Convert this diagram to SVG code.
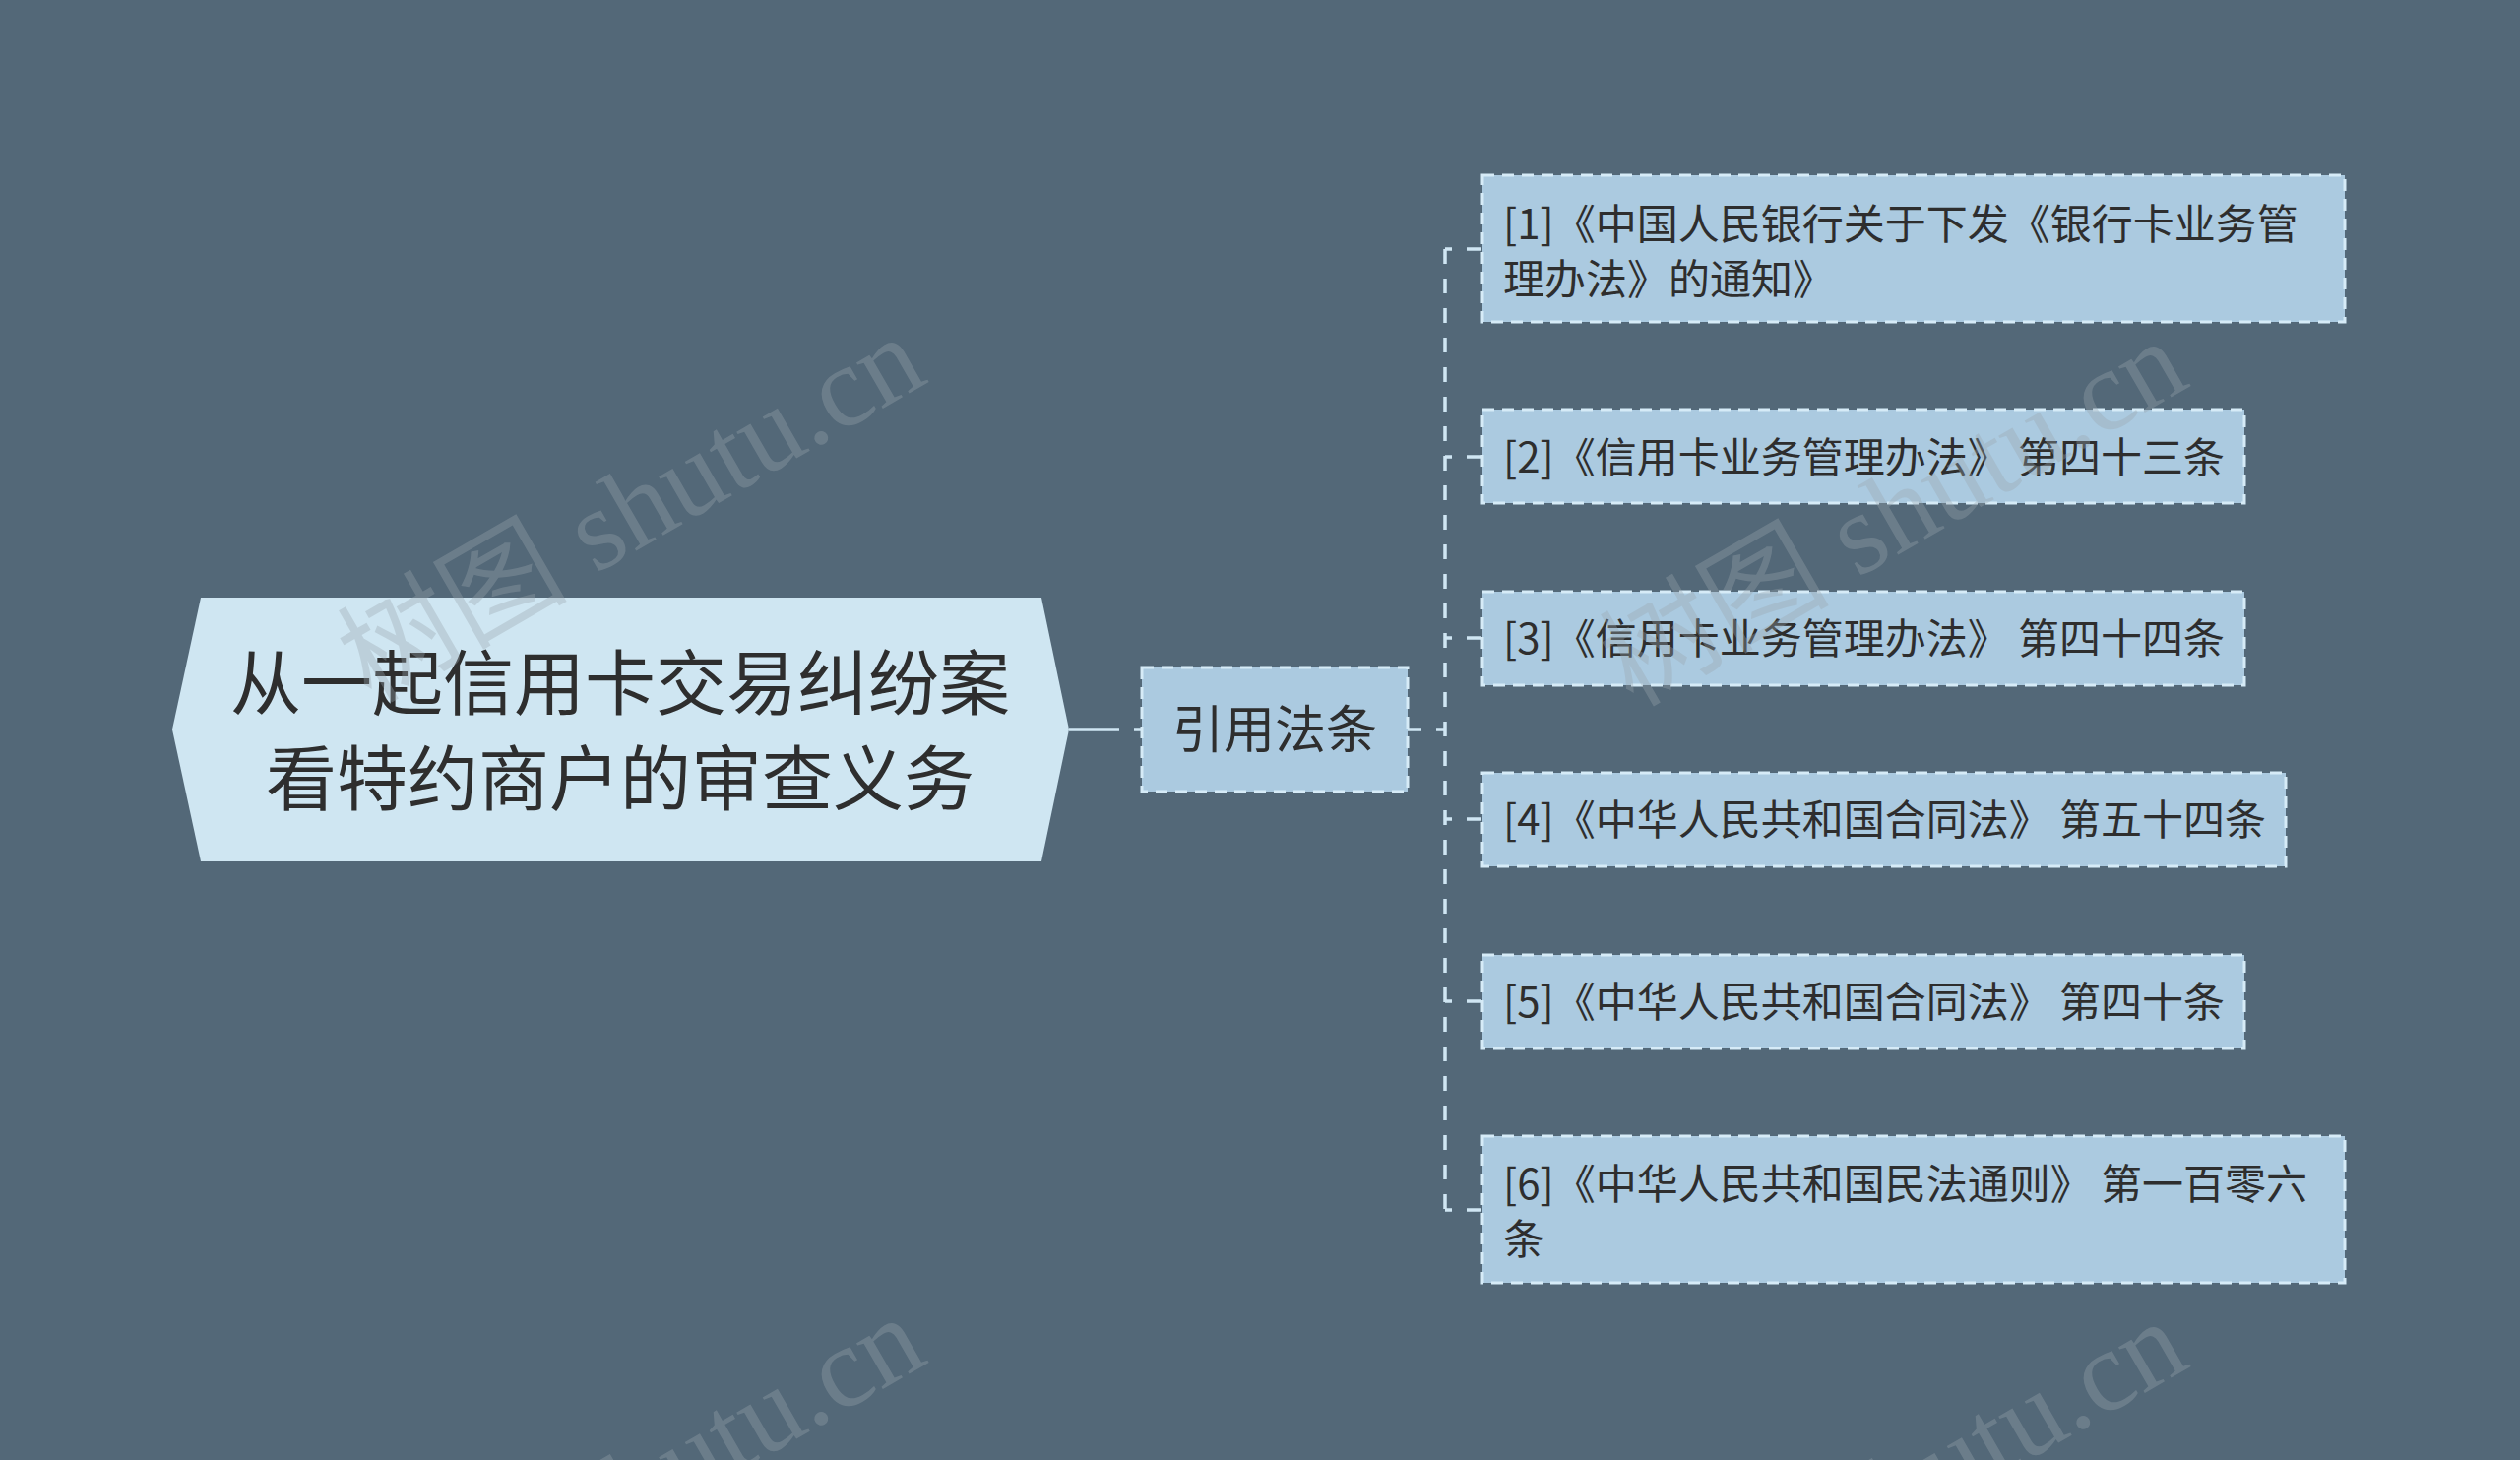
<svg xmlns="http://www.w3.org/2000/svg" width="2560" height="1483" viewBox="0 0 2560 1483">
<style>
.bg{fill:#536878}
.root{fill:#cfe6f2}
.box{fill:#abcae0;stroke:#d6ebf7;stroke-width:3;stroke-dasharray:12 8}
.t{font-family:"Noto Sans CJK SC","Noto Sans",sans-serif;fill:#2e2e2e}
.c{fill:none;stroke:#d0e6f3;stroke-width:3.5}
.wm{font-family:"Liberation Serif","Noto Sans CJK SC",serif;font-size:117px;fill:#9aa6ae;opacity:0.35}
</style>
<rect class="bg" x="0" y="0" width="2560" height="1483"/>
<g id="connectors">
<path class="c" d="M1086,741 H1160" stroke-dasharray="51 15 10 100" stroke-width="4"/>
<path class="c" d="M1430,741 H1468" stroke-dasharray="14 15"/>
<path class="c" d="M1468,253 V1228" stroke-dasharray="15 15"/>
<path class="c" d="M1468,253 H1505" stroke-dasharray="7 15 15"/>
<path class="c" d="M1468,464 H1505" stroke-dasharray="7 15 15"/>
<path class="c" d="M1468,648 H1505" stroke-dasharray="7 15 15"/>
<path class="c" d="M1468,832 H1505" stroke-dasharray="7 15 15"/>
<path class="c" d="M1468,1017 H1505" stroke-dasharray="7 15 15"/>
<path class="c" d="M1468,1229 H1505" stroke-dasharray="7 15 15"/>
</g>
<g id="root">
<polygon class="root" points="175,741 204,607 1058,607 1086,741 1058,875 204,875"/>
<text class="t" font-size="72" text-anchor="middle" x="630" y="720">从一起信用卡交易纠纷案</text>
<text class="t" font-size="72" text-anchor="middle" x="630" y="817">看特约商户的审查义务</text>
</g>
<g id="n-yinyong">
<rect class="box" x="1160" y="678" width="270" height="126"/>
<text class="t" font-size="52" text-anchor="middle" x="1295" y="760">引用法条</text>
</g>
<g id="c1">
<rect class="box" x="1506" y="178" width="876" height="149"/>
<text class="t" font-size="42" x="1527" y="243">[1]《中国人民银行关于下发《银行卡业务管</text>
<text class="t" font-size="42" x="1527" y="299">理办法》的通知》</text>
</g>
<g id="c2">
<rect class="box" x="1506" y="416" width="774" height="95"/>
<text class="t" font-size="42" x="1527" y="480">[2]《信用卡业务管理办法》 第四十三条</text>
</g>
<g id="c3">
<rect class="box" x="1506" y="601" width="774" height="95"/>
<text class="t" font-size="42" x="1527" y="664">[3]《信用卡业务管理办法》 第四十四条</text>
</g>
<g id="c4">
<rect class="box" x="1506" y="785" width="816" height="95"/>
<text class="t" font-size="42" x="1527" y="848">[4]《中华人民共和国合同法》 第五十四条</text>
</g>
<g id="c5">
<rect class="box" x="1506" y="970" width="774" height="95"/>
<text class="t" font-size="42" x="1527" y="1033">[5]《中华人民共和国合同法》 第四十条</text>
</g>
<g id="c6">
<rect class="box" x="1506" y="1154" width="876" height="149"/>
<text class="t" font-size="42" x="1527" y="1218">[6]《中华人民共和国民法通则》 第一百零六</text>
<text class="t" font-size="42" x="1527" y="1274">条</text>
</g>
<g id="watermarks">
<text class="wm" text-anchor="middle" transform="translate(661,551) rotate(-30)">树图 shutu.cn</text>
<text class="wm" text-anchor="middle" transform="translate(1943,555) rotate(-30)">树图 shutu.cn</text>
<text class="wm" text-anchor="middle" transform="translate(661,1547) rotate(-30)">树图 shutu.cn</text>
<text class="wm" text-anchor="middle" transform="translate(1943,1551) rotate(-30)">树图 shutu.cn</text>
</g>
</svg>
